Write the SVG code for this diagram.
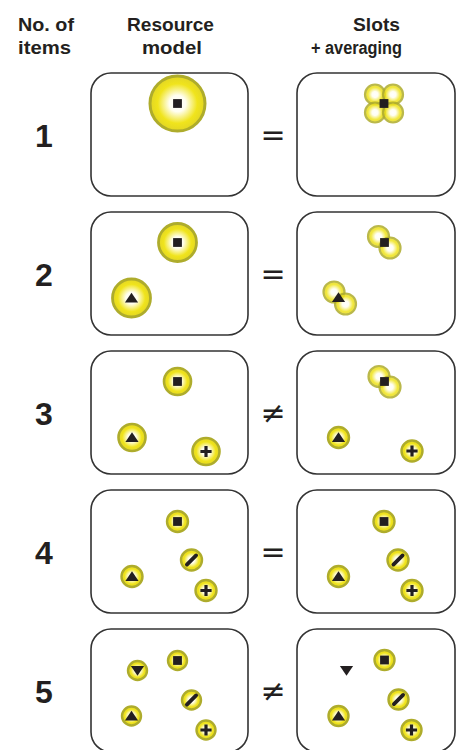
<svg xmlns="http://www.w3.org/2000/svg" xmlns:xlink="http://www.w3.org/1999/xlink" width="460" height="750" viewBox="0 0 460 750">
<style>
.hd{font-family:"Liberation Sans",Arial,sans-serif;font-weight:bold;font-size:18px;fill:#231f20}
.num{font-family:"Liberation Sans",Arial,sans-serif;font-weight:bold;font-size:32px;fill:#231f20;text-anchor:middle}
.sg{font-family:"DejaVu Sans","Liberation Sans",sans-serif;font-size:30px;fill:#231f20;text-anchor:middle}
.box{fill:#fff;stroke:#333;stroke-width:1.6}
.c{fill:url(#gl);stroke:#aeac2c}
.s{fill:url(#gl);stroke:#aeac2c;stroke-width:2.2;opacity:0.85}
.k{fill:#231f20}
</style>
<defs>
<radialGradient id="gl" cx="50%" cy="50%" r="50%">
<stop offset="0" stop-color="#ffffff"/>
<stop offset="0.3" stop-color="#fffef0"/>
<stop offset="0.72" stop-color="#f0e41c"/>
<stop offset="1" stop-color="#e2d624"/>
</radialGradient>
<rect id="sq" class="k" x="-4.4" y="-4.4" width="8.8" height="8.8"/>
<polygon id="tri" class="k" points="0,-5.3 6.6,4.6 -6.6,4.6"/>
<polygon id="itri" class="k" points="0,5.3 6.6,-4.6 -6.6,-4.6"/>
<path id="pl" class="k" d="M-1.6,-5.6h3.2v4h4v3.2h-4v4h-3.2v-4h-4v-3.2h4z"/>
<line id="sl" x1="-4.6" y1="4.6" x2="4.6" y2="-4.6" stroke="#231f20" stroke-width="3.8" stroke-linecap="round"/>
</defs>

<g id="headers">
<text class="hd" x="18" y="31" textLength="56" lengthAdjust="spacingAndGlyphs">No. of</text>
<text class="hd" x="18" y="54" textLength="53" lengthAdjust="spacingAndGlyphs">items</text>
<text class="hd" x="127" y="31" textLength="87" lengthAdjust="spacingAndGlyphs">Resource</text>
<text class="hd" x="142" y="54" textLength="60" lengthAdjust="spacingAndGlyphs">model</text>
<text class="hd" x="353" y="31" textLength="47" lengthAdjust="spacingAndGlyphs">Slots</text>
<text class="hd" x="311" y="54" textLength="91" lengthAdjust="spacingAndGlyphs">+ averaging</text>
</g>

<g id="row1">
<text class="num" x="44" y="146.5">1</text>
<rect class="box" x="91" y="73" width="157" height="123" rx="20"/>
<circle class="c" cx="177.5" cy="103.5" r="27.5" stroke-width="3"/>
<use href="#sq" x="177.5" y="103.5"/>
<text class="sg" x="273" y="145">=</text>
<rect class="box" x="297" y="73" width="158" height="123" rx="20"/>
<circle class="s" cx="375" cy="94.5" r="10"/>
<circle class="s" cx="393" cy="94.5" r="10"/>
<circle class="s" cx="375" cy="112.5" r="10"/>
<circle class="s" cx="393" cy="112.5" r="10"/>
<use href="#sq" x="384" y="103.5"/>
</g>

<g id="row2">
<text class="num" x="44" y="285.5">2</text>
<rect class="box" x="91" y="212" width="157" height="123" rx="20"/>
<circle class="c" cx="177.5" cy="242.5" r="19" stroke-width="2.8"/>
<use href="#sq" x="177.5" y="242.5"/>
<circle class="c" cx="131.5" cy="298" r="19" stroke-width="2.8"/>
<use href="#tri" x="131.5" y="298"/>
<text class="sg" x="273" y="284">=</text>
<rect class="box" x="297" y="212" width="158" height="123" rx="20"/>
<circle class="s" cx="378.5" cy="236.5" r="10.5"/>
<circle class="s" cx="390" cy="248" r="10.5"/>
<use href="#sq" x="384.5" y="242.5"/>
<circle class="s" cx="334" cy="292" r="10.5"/>
<circle class="s" cx="345.5" cy="304" r="10.5"/>
<use href="#tri" x="338.5" y="297.5"/>
</g>

<g id="row3">
<text class="num" x="44" y="424.5">3</text>
<rect class="box" x="91" y="351" width="157" height="123" rx="20"/>
<circle class="c" cx="177.5" cy="381.5" r="13.5" stroke-width="2.6"/>
<use href="#sq" x="177.5" y="381.5"/>
<circle class="c" cx="132" cy="437.5" r="13.5" stroke-width="2.6"/>
<use href="#tri" x="132" y="437.5"/>
<circle class="c" cx="206" cy="451.5" r="13.5" stroke-width="2.6"/>
<use href="#pl" x="206" y="451.5"/>
<text class="sg" x="273" y="423">≠</text>
<rect class="box" x="297" y="351" width="158" height="123" rx="20"/>
<circle class="s" cx="379" cy="376.5" r="10.5"/>
<circle class="s" cx="390" cy="387" r="10.5"/>
<use href="#sq" x="384.5" y="381.5"/>
<circle class="c" cx="338.5" cy="437.5" r="10.5" stroke-width="2.4"/>
<use href="#tri" x="338.5" y="437.5"/>
<circle class="c" cx="412" cy="451" r="10.5" stroke-width="2.4"/>
<use href="#pl" x="412" y="451"/>
</g>

<g id="row4">
<text class="num" x="44" y="563.5">4</text>
<rect class="box" x="91" y="490" width="157" height="123" rx="20"/>
<circle class="c" cx="177.5" cy="521.5" r="10.5" stroke-width="2.4"/>
<use href="#sq" x="177.5" y="521.5"/>
<circle class="c" cx="191.5" cy="560" r="10.5" stroke-width="2.4"/>
<use href="#sl" x="191.5" y="560"/>
<circle class="c" cx="132" cy="576.5" r="10.5" stroke-width="2.4"/>
<use href="#tri" x="132" y="576.5"/>
<circle class="c" cx="206" cy="590.5" r="10.5" stroke-width="2.4"/>
<use href="#pl" x="206" y="590.5"/>
<text class="sg" x="273" y="562">=</text>
<rect class="box" x="297" y="490" width="158" height="123" rx="20"/>
<circle class="c" cx="384" cy="521.5" r="10.5" stroke-width="2.4"/>
<use href="#sq" x="384" y="521.5"/>
<circle class="c" cx="398" cy="560" r="10.5" stroke-width="2.4"/>
<use href="#sl" x="398" y="560"/>
<circle class="c" cx="338.5" cy="576.5" r="10.5" stroke-width="2.4"/>
<use href="#tri" x="338.5" y="576.5"/>
<circle class="c" cx="412" cy="590.5" r="10.5" stroke-width="2.4"/>
<use href="#pl" x="412" y="590.5"/>
</g>

<g id="row5">
<text class="num" x="44" y="702.5">5</text>
<rect class="box" x="91" y="629" width="157" height="123" rx="20"/>
<circle class="c" cx="177.5" cy="660.5" r="9.5" stroke-width="2.4"/>
<use href="#sq" x="177.5" y="660.5"/>
<circle class="c" cx="137.5" cy="670.5" r="9.5" stroke-width="2.4"/>
<use href="#itri" x="137.5" y="670.5"/>
<circle class="c" cx="191.5" cy="700" r="9.5" stroke-width="2.4"/>
<use href="#sl" x="191.5" y="700"/>
<circle class="c" cx="131.5" cy="716" r="9.5" stroke-width="2.4"/>
<use href="#tri" x="131.5" y="716"/>
<circle class="c" cx="206" cy="730" r="9.5" stroke-width="2.4"/>
<use href="#pl" x="206" y="730"/>
<text class="sg" x="273" y="701">≠</text>
<rect class="box" x="297" y="629" width="158" height="123" rx="20"/>
<circle class="c" cx="384.5" cy="660" r="10" stroke-width="2.4"/>
<use href="#sq" x="384.5" y="660"/>
<use href="#itri" x="346.5" y="670.5"/>
<circle class="c" cx="398.5" cy="699.5" r="10" stroke-width="2.4"/>
<use href="#sl" x="398.5" y="699.5"/>
<circle class="c" cx="338.5" cy="716" r="10" stroke-width="2.4"/>
<use href="#tri" x="338.5" y="716"/>
<circle class="c" cx="411.5" cy="730" r="10" stroke-width="2.4"/>
<use href="#pl" x="411.5" y="730"/>
</g>
</svg>
